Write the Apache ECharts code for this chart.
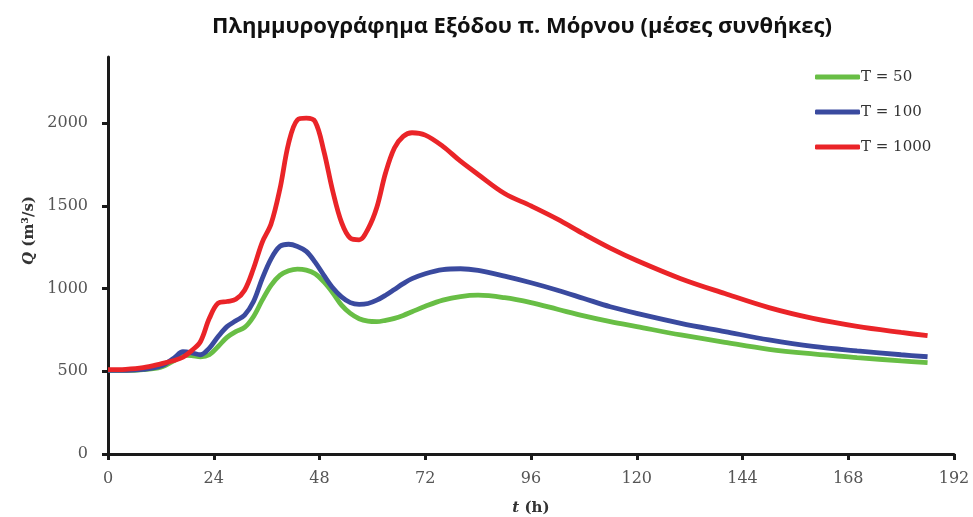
<!DOCTYPE html>
<html>
<head>
<meta charset="utf-8">
<script src="https://cdn.jsdelivr.net/npm/echarts@6/dist/echarts.min.js"></script>
<style>html,body{margin:0;padding:0;background:#fff}#c{width:973px;height:517px}</style>
</head>
<body>
<div id="c"></div>
<script>
var hours = [0,4,8,12,15,17,19,21,23,25,27,29,31,33,35,37,39,41,43,45,47,49,51,53,55,57,59,61,63,65,67,69,72,76,80,84,90,96,102,108,114,120,130,140,150,160,170,180,186];
var qT50 = [505,505,510,525,565,598,595,588,600,650,705,740,765,830,930,1020,1080,1108,1118,1112,1090,1040,975,900,850,818,803,800,808,820,838,860,893,930,952,960,945,915,875,835,800,770,720,675,633,605,583,563,552];
var qT100 = [505,506,512,532,580,618,612,600,640,710,770,805,840,920,1060,1180,1255,1268,1255,1225,1160,1080,1005,950,915,905,910,930,960,995,1030,1060,1090,1115,1120,1110,1075,1035,990,940,890,850,790,740,690,650,623,600,588];
var qT1000 = [510,512,522,545,565,585,625,680,820,912,922,935,990,1120,1280,1390,1600,1880,2020,2030,2010,1830,1590,1400,1305,1295,1360,1490,1700,1850,1920,1942,1928,1860,1770,1690,1575,1500,1420,1330,1245,1170,1060,970,885,820,772,735,715];
var seriesNames = ['T = 50','T = 100','T = 1000'];
var xTicks = [0,24,48,72,96,120,144,168,192];
var yTicks = [0,500,1000,1500,2000];

function pairs(v){ return hours.map(function(h,i){ return [h, v[i]]; }); }

var chart = echarts.init(document.getElementById('c'));
var colors = ['#68be45','#3a4a9f','#ea2428'];
var sets = [qT50, qT100, qT1000];
var serif = 'DejaVu Serif';
chart.setOption({
  animation:false,
  title:{
    text:'Πλημμυρογράφημα Εξόδου π. Μόρνου (μέσες συνθήκες)',
    left:517, top:11, textAlign:'center',
    textStyle:{fontFamily:'Open Sans', fontWeight:'bold', fontSize:22, color:'#111'}
  },
  legend:{
    orient:'vertical', left:810, top:63, itemGap:17,
    itemWidth:45, itemHeight:5,
    icon:'roundRect',
    textStyle:{fontFamily:serif, fontSize:15, color:'#333', padding:[0,0,0,-4], lineHeight:18},
    data:seriesNames
  },
  grid:{left:108, right:19, top:57, bottom:63, containLabel:false, outerBoundsMode:'none'},
  xAxis:{
    type:'value', min:0, max:192, interval:24,
    name:'{i|t} (h)', nameLocation:'middle', nameGap:47,
    nameTextStyle:{fontFamily:serif, fontWeight:'bold', fontSize:15, color:'#333',
      rich:{i:{fontStyle:'italic', fontFamily:serif, fontWeight:'bold', fontSize:15, color:'#333'}}},
    axisLine:{show:true, lineStyle:{color:'#1a1a1a', width:3}},
    axisTick:{show:true, length:6, lineStyle:{color:'#1a1a1a', width:3}},
    axisLabel:{fontFamily:serif, fontSize:16, color:'#555', margin:17, customValues:xTicks,
      formatter:function(v){ return String(v); }},
    splitLine:{show:false}
  },
  yAxis:{
    type:'value', min:0, max:2400,
    name:'{i|Q} (m³/s)', nameLocation:'middle', nameGap:68, nameRotate:90,
    nameTextStyle:{fontFamily:serif, fontWeight:'bold', fontSize:15, color:'#333', padding:[0,0,0,50],
      rich:{i:{fontStyle:'italic', fontFamily:serif, fontWeight:'bold', fontSize:15, color:'#333'}}},
    axisLine:{show:true, lineStyle:{color:'#1a1a1a', width:3}},
    axisTick:{show:true, length:6, lineStyle:{color:'#1a1a1a', width:3}, customValues:yTicks},
    axisLabel:{fontFamily:serif, fontSize:16, color:'#555', margin:20, customValues:yTicks,
      formatter:function(v){ return String(v); }},
    splitLine:{show:false}
  },
  series: seriesNames.map(function(n,i){
    return {name:n, type:'line', data:pairs(sets[i]), smooth:0.35, symbol:'none',
      lineStyle:{color:colors[i], width:4.8}, itemStyle:{color:colors[i]}, z:2+i};
  })
});
</script>
</body>
</html>
